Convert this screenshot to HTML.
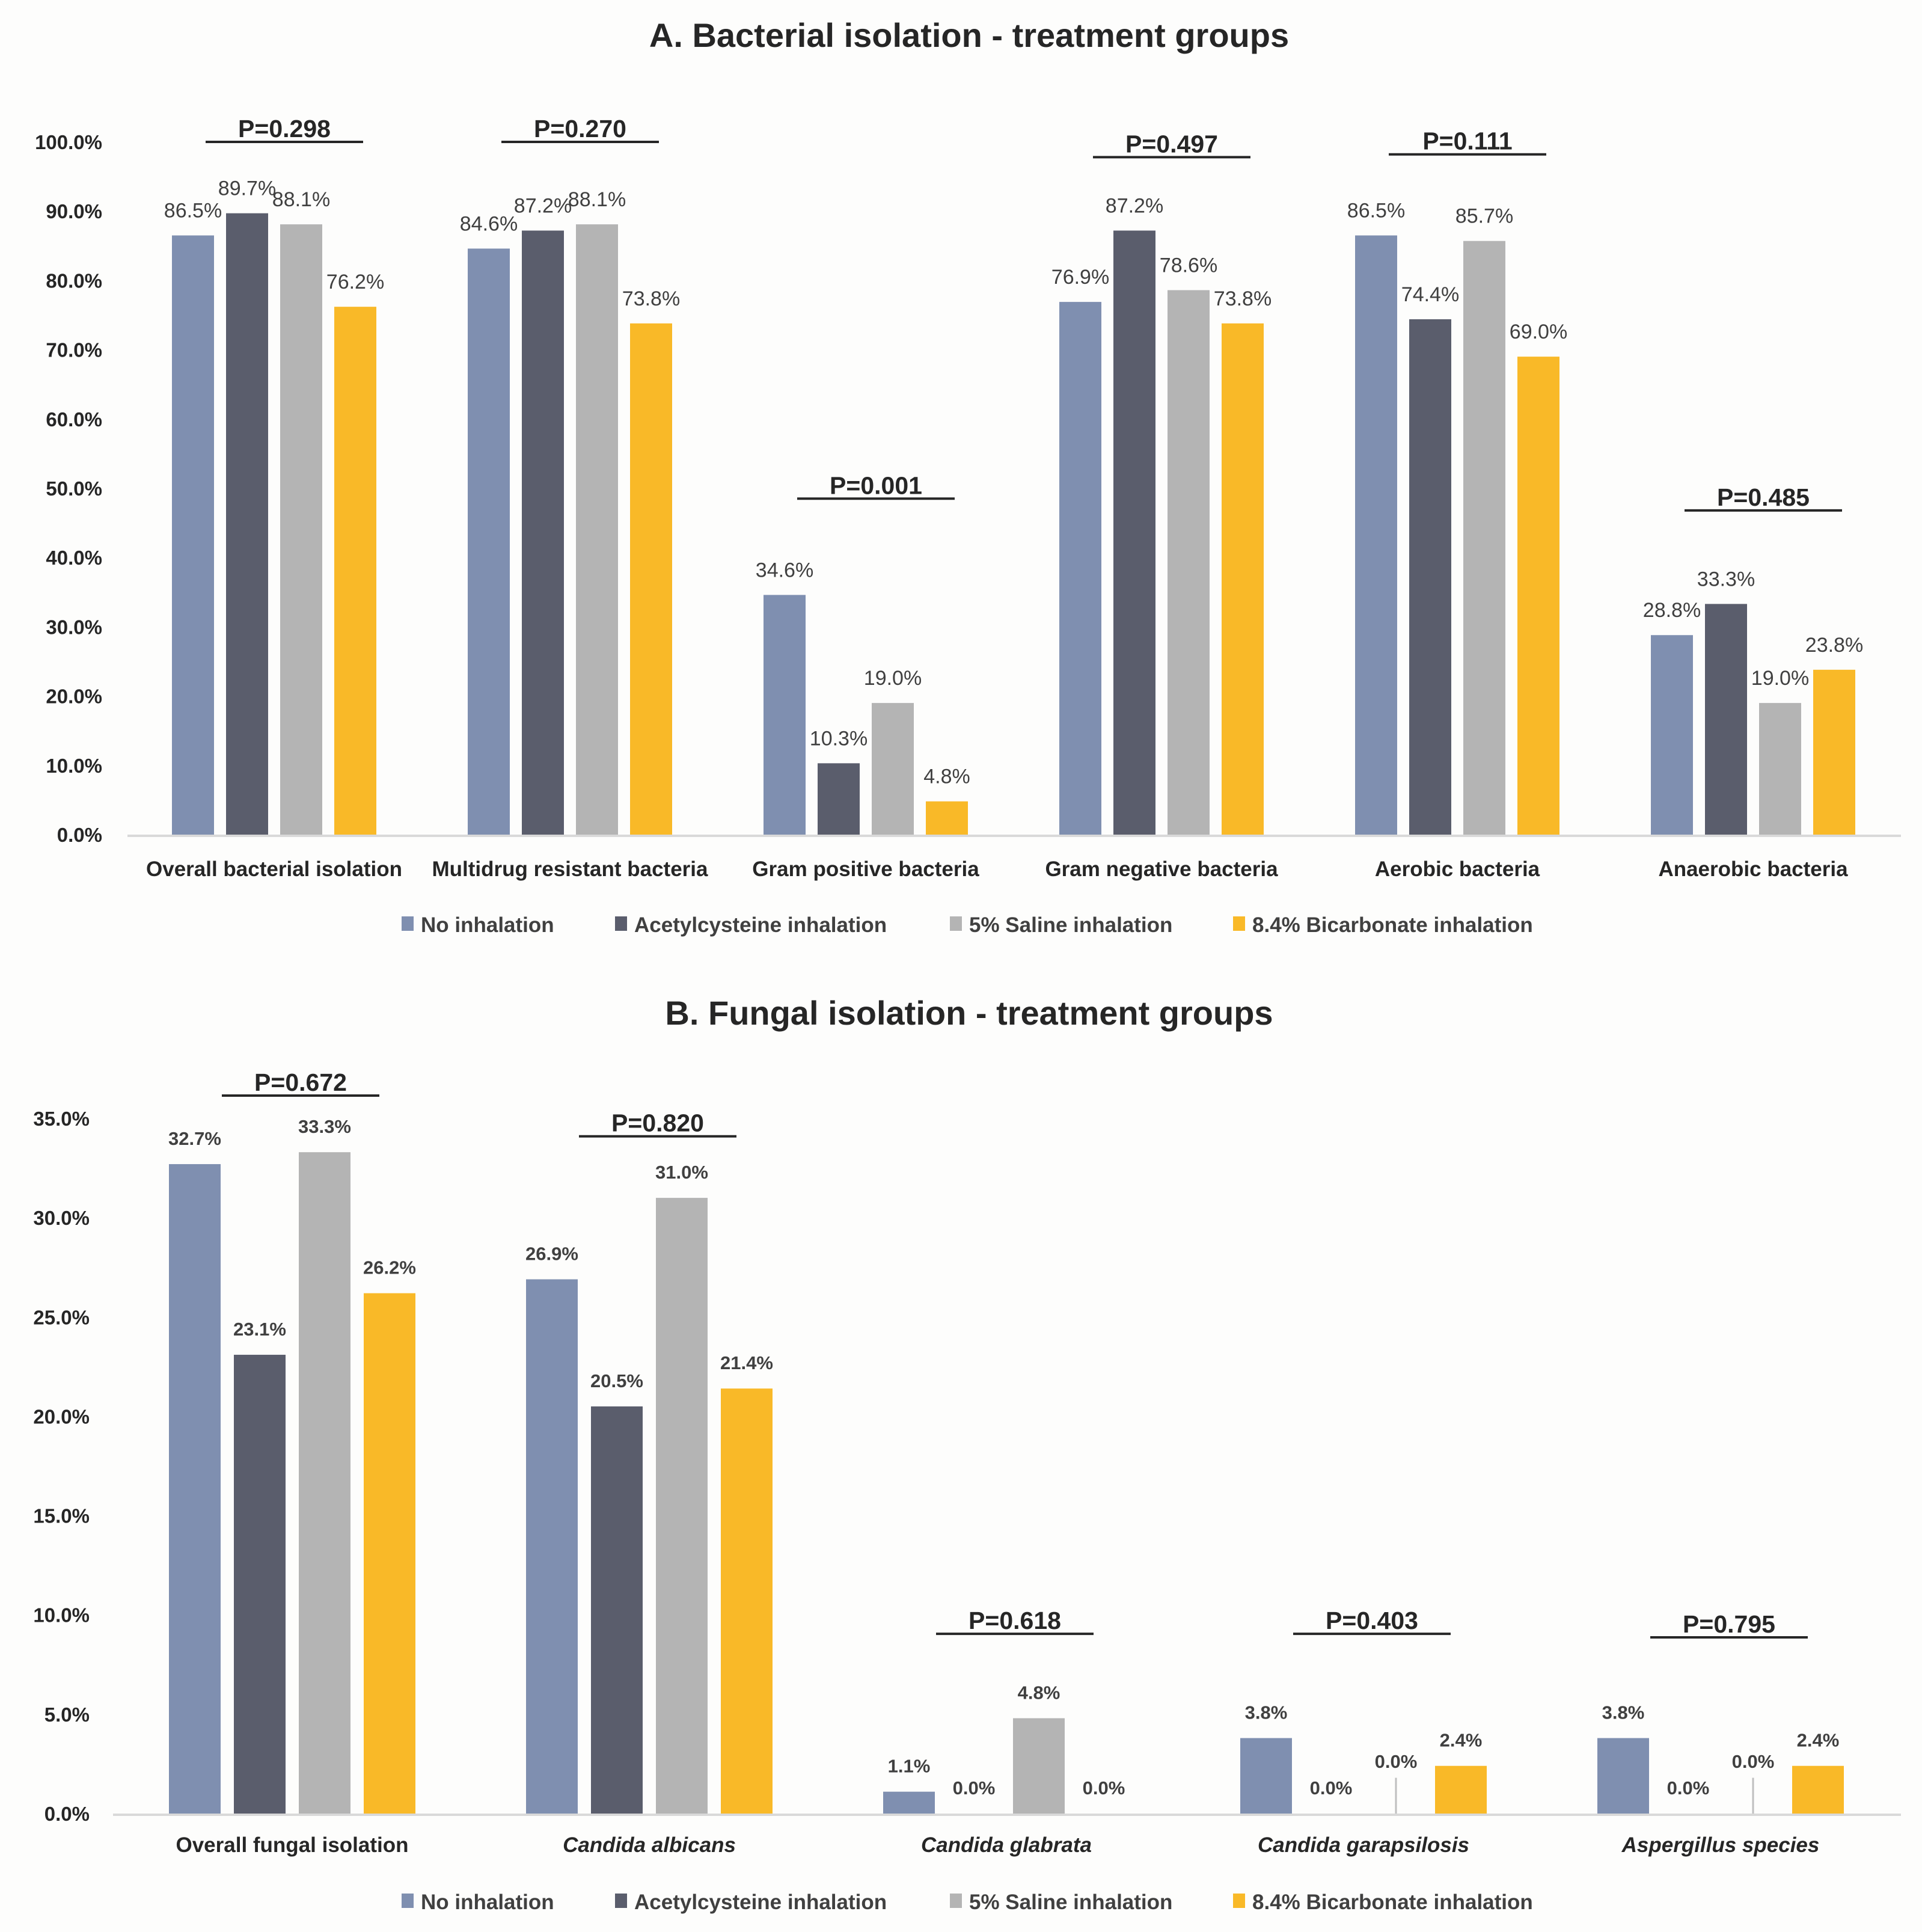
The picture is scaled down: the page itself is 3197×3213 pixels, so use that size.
<!DOCTYPE html>
<html><head><meta charset="utf-8"><style>
html,body{margin:0;padding:0;background:#fdfdfc;}
svg{display:block;font-family:"Liberation Sans",sans-serif;}
</style></head><body>
<svg id="svg" width="3197" height="3213" viewBox="0 0 3197 3213" xmlns="http://www.w3.org/2000/svg">
<rect width="3197" height="3213" fill="#fdfdfc"/>
</svg>
<script>
const seriesNames = ["No inhalation","Acetylcysteine inhalation","5% Saline inhalation","8.4% Bicarbonate inhalation"];
const colors = ["#7f8fb0","#5a5d6c","#b4b4b4","#f9b928"];

const catsA = ["Overall bacterial isolation","Multidrug resistant bacteria","Gram positive bacteria","Gram negative bacteria","Aerobic bacteria","Anaerobic bacteria"];
const noInhA = [86.5,84.6,34.6,76.9,86.5,28.8];
const acetA = [89.7,87.2,10.3,87.2,74.4,33.3];
const salineA = [88.1,88.1,19.0,78.6,85.7,19.0];
const bicarbA = [76.2,73.8,4.8,73.8,69.0,23.8];
const pA = ["P=0.298","P=0.270","P=0.001","P=0.497","P=0.111","P=0.485"];
const pLevelA = [100,100,48.5,97.8,98.2,46.8];
const ticksA = [0,10,20,30,40,50,60,70,80,90,100];

const catsB = ["Overall fungal isolation","Candida albicans","Candida glabrata","Candida garapsilosis","Aspergillus species"];
const noInhB = [32.7,26.9,1.1,3.8,3.8];
const acetB = [23.1,20.5,0.0,0.0,0.0];
const salineB = [33.3,31.0,4.8,0.0,0.0];
const bicarbB = [26.2,21.4,0.0,2.4,2.4];
const pB = ["P=0.672","P=0.820","P=0.618","P=0.403","P=0.795"];
const pLevelB = [36.15,34.1,9.05,9.05,8.87];
const ticksB = [0,5,10,15,20,25,30,35];

const svg = document.getElementById('svg');
const NS = "http://www.w3.org/2000/svg";
function mk(tag, attrs, text){
  const e = document.createElementNS(NS, tag);
  for (const k in attrs) e.setAttribute(k, attrs[k]);
  if (text !== undefined) e.textContent = text;
  svg.appendChild(e);
  return e;
}

function drawChart(cfg){
  const y = v => cfg.y0 - (v / cfg.vmax) * (cfg.y0 - cfg.yTop);
  const gx = i => cfg.c0 + i * cfg.pitch;
  const t = mk('text', {x: 1612, y: cfg.titleY, 'text-anchor':'middle', 'font-size':56, 'font-weight':'bold', fill:'#262626'}, cfg.title);
  
  
  cfg.ticks.forEach(v => {
    const tl = mk('text', {x: cfg.tickX, y: y(v) + 12, 'text-anchor':'end', 'font-size':33, 'font-weight':'bold', fill:'#262626'}, v.toFixed(1) + '%');
    
    
  });
  const ax = mk('line', {x1: cfg.axisX, x2: 3162, y1: cfg.y0 + 2, y2: cfg.y0 + 2, stroke:'#d9d9d9', 'stroke-width':4});
  
  
  const series = cfg.series;
  cfg.cats.forEach((cat, i) => {
    const c = gx(i);
    series.forEach((arr, s) => {
      const v = arr[i];
      const bx = c - 1.5 * cfg.bp + s * cfg.bp - cfg.bw / 2;
      if (v > 0) {
        const r = mk('rect', {x: bx, y: y(v), width: cfg.bw, height: cfg.y0 - y(v), fill: colors[s]});
        
        
      }
      let ly = y(v) - cfg.labelGap;
      if (cfg.lift && v === 0 && s === 2 && i >= 3) {
        ly = y(2.0) - 10;
        const ll = mk('line', {x1: bx + cfg.bw/2, x2: bx + cfg.bw/2, y1: y(1.8), y2: cfg.y0, stroke:'#bfbfbf', 'stroke-width':3});
        
        
      }
      const vl = mk('text', {x: bx + cfg.bw/2, y: ly, 'text-anchor':'middle', 'font-size':cfg.valSize, 'font-weight':cfg.valWeight, fill:'#404040'}, v.toFixed(1) + '%');
      
      
    });
    const cl = mk('text', {x: c, y: cfg.catY, 'text-anchor':'middle', 'font-size':35, 'font-weight':'bold', 'font-style': cfg.italic[i] ? 'italic' : 'normal', fill:'#262626'}, cat);
    
    
    const py = y(cfg.pLevel[i]);
    const pl = mk('line', {x1: c + cfg.pOff - 131, x2: c + cfg.pOff + 131, y1: py, y2: py, stroke:'#262626', 'stroke-width':4});
    
    
    const pt = mk('text', {x: c + cfg.pOff, y: py - 8, 'text-anchor':'middle', 'font-size':41, 'font-weight':'bold', fill:'#262626'}, cfg.p[i]);
    
    
  });
  const lx = [668, 1023, 1580, 2051];
  seriesNames.forEach((n, s) => {
    const sq = mk('rect', {x: lx[s], y: cfg.legY - 26, width: 20, height: 24, fill: colors[s]});
    
    
    const lt = mk('text', {x: lx[s] + 32, y: cfg.legY, 'font-size':35, 'font-weight':'bold', fill:'#404040'}, n);
    
    
  });
}

drawChart({key:'a', title:'A. Bacterial isolation - treatment groups', titleY:78,
  y0:1388, yTop:236, vmax:100, ticks:ticksA, tickX:170, axisX:212,
  c0:456, pitch:492, bw:70, bp:90, cats:catsA, series:[noInhA,acetA,salineA,bicarbA],
  p:pA, pLevel:pLevelA, pOff:17, catY:1457, legY:1550, valSize:34, valWeight:'normal',
  labelGap:30, italic:[0,0,0,0,0,0], lift:false});

drawChart({key:'b', title:'B. Fungal isolation - treatment groups', titleY:1704,
  y0:3016, yTop:1860, vmax:35, ticks:ticksB, tickX:149, axisX:188,
  c0:486, pitch:594, bw:86, bp:108, cats:catsB, series:[noInhB,acetB,salineB,bicarbB],
  p:pB, pLevel:pLevelB, pOff:14, catY:3080, legY:3175, valSize:31, valWeight:'bold',
  labelGap:32, italic:[0,1,1,1,1], lift:true});
</script>
</body></html>
